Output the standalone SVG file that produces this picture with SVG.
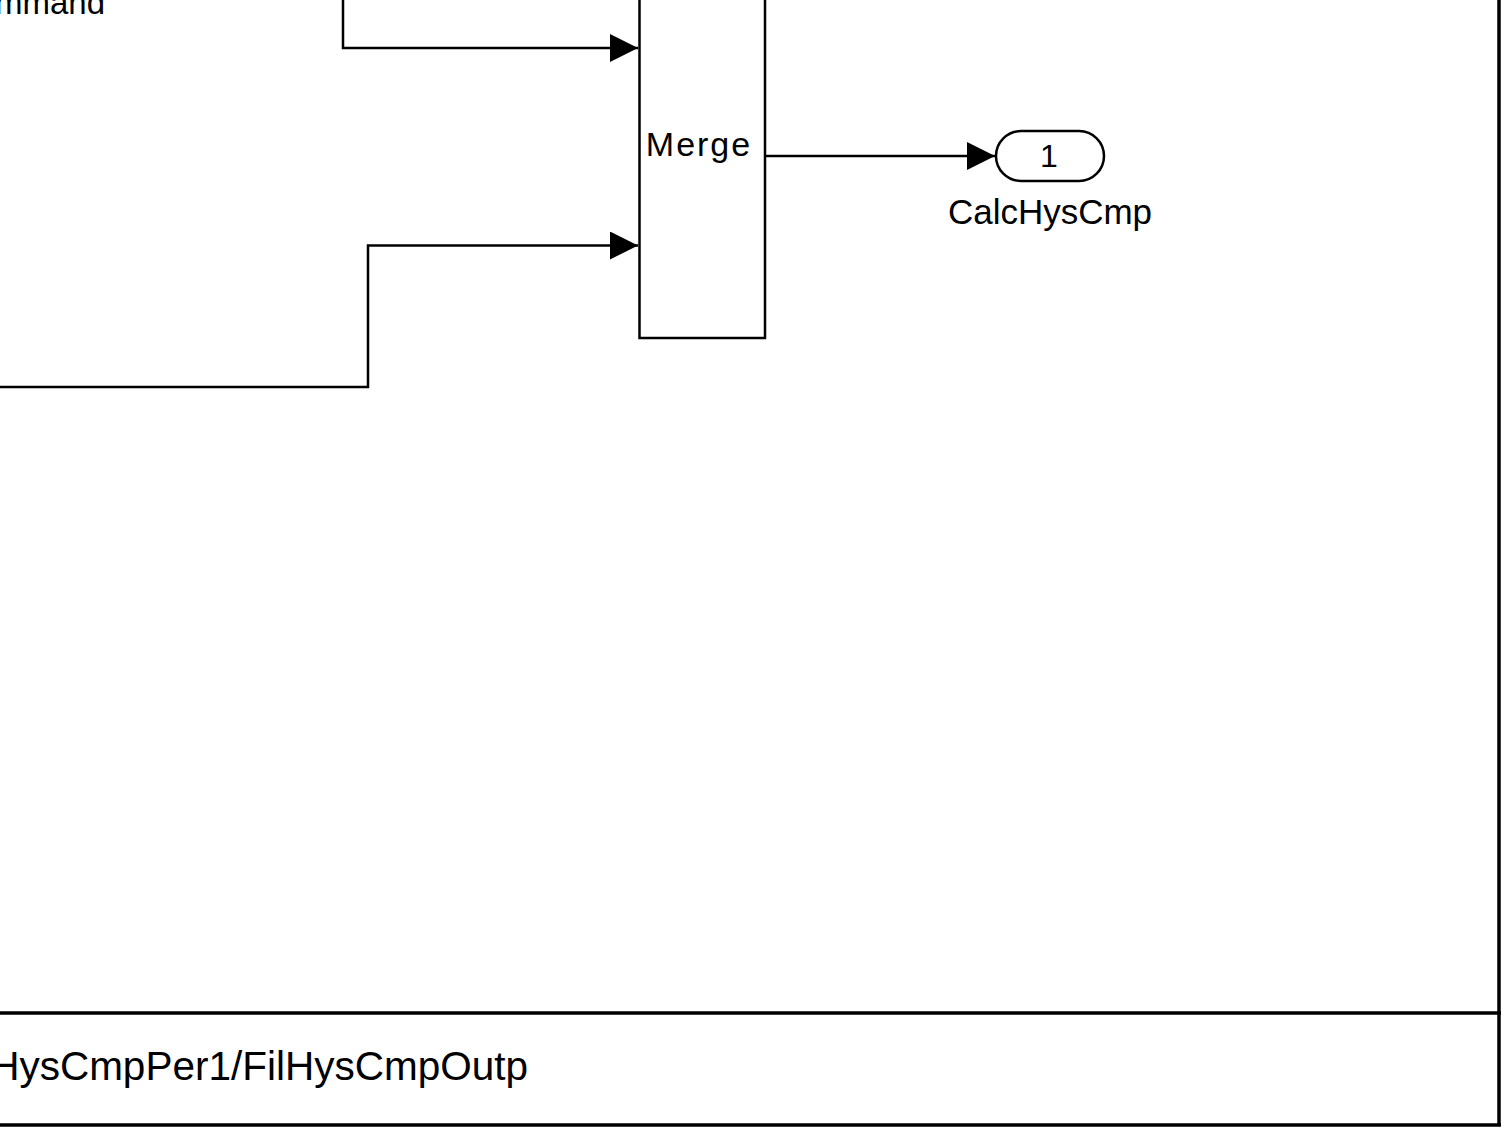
<svg xmlns="http://www.w3.org/2000/svg" width="1506" height="1131" viewBox="0 0 1506 1131">
<style>
.blk{fill:#fff;stroke:#000;stroke-width:2.5}
.ln{fill:none;stroke:#000;stroke-width:2.5}
.fr{fill:none;stroke:#000;stroke-width:3.5}
.t{font-family:"Liberation Sans",Arial,sans-serif;fill:#000}
</style>
<defs>
<marker id="ar" viewBox="0 0 28 28" refX="28" refY="14" markerWidth="28" markerHeight="28" markerUnits="userSpaceOnUse" orient="auto">
<path d="M0,0 L28,14 L0,28 Z" fill="#000"/>
</marker>
</defs>
<rect width="1506" height="1131" fill="#fff"/>
<g id="frame">
<line class="fr" x1="1499" y1="0" x2="1499" y2="1126"/>
<line class="fr" x1="0" y1="1013" x2="1501" y2="1013"/>
<line class="fr" x1="0" y1="1125" x2="1501" y2="1125"/>
<text class="t" x="528" y="1080" font-size="40.5" text-anchor="end">HysCmpPer1/FilHysCmpOutp</text>
</g>
<g id="connectors">
<path class="ln" d="M343,0 V48 H638" marker-end="url(#ar)"/>
<path class="ln" d="M0,387 H368 V245.5 H638" marker-end="url(#ar)"/>
<path class="ln" d="M765,156 H995" marker-end="url(#ar)"/>
</g>
<g id="label-command">
<text class="t" x="105" y="14" font-size="33" text-anchor="end">mmand</text>
</g>
<g id="merge">
<rect class="blk" x="639.5" y="-10" width="125.5" height="348"/>
<text class="t" x="699" y="156" font-size="34" text-anchor="middle" letter-spacing="2">Merge</text>
</g>
<g id="outport-CalcHysCmp">
<rect class="blk" x="996" y="131" width="108" height="50" rx="25" ry="25"/>
<text class="t" x="1049" y="167" font-size="32" text-anchor="middle">1</text>
<text class="t" x="1050" y="224" font-size="35" text-anchor="middle">CalcHysCmp</text>
</g>
</svg>
